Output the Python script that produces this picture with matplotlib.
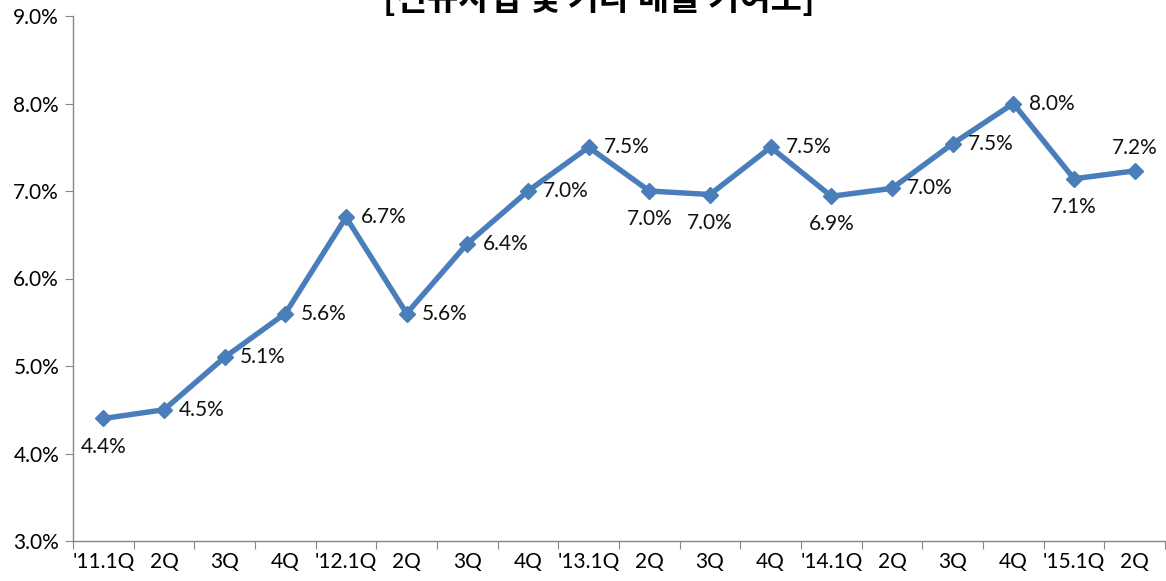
import matplotlib
matplotlib.use("Agg")
import matplotlib.pyplot as plt
import numpy as np

categories = ["'11.1Q", "2Q", "3Q", "4Q", "'12.1Q", "2Q", "3Q", "4Q", "'13.1Q", "2Q",
              "3Q", "4Q", "'14.1Q", "2Q", "3Q", "4Q", "'15.1Q", "2Q"]
values = [4.4, 4.5, 5.1, 5.6, 6.7, 5.6, 6.4, 7.0, 7.5, 7.0,
          6.96, 7.5, 6.94, 7.03, 7.54, 8.0, 7.14, 7.23]
# label placement: r=right, b=below, t=above
label_pos = ["b", "r", "r", "r", "r", "r", "r", "r", "r", "b",
             "b", "r", "b", "r", "r", "r", "b", "t"]
title = "[신규사업 및 기타 매출 기여도]"

plt.rcParams['font.family'] = ['Lato', 'DejaVu Sans']

fig = plt.figure(figsize=(11.66, 5.81), dpi=100)
ax = fig.add_axes([73/1166, 40/581, 1092/1166, 525/581])

x = np.arange(len(values))
color = "#4A7EBB"
ax.plot(x, values, color=color, lw=3.9, marker="D", ms=8, mec=color, mfc=color,
        solid_joinstyle="miter")

fs = 15
for xi, v, p in zip(x, values, label_pos):
    txt = f"{v:.1f}%"
    if p == "r":
        ax.annotate(txt, (xi, v), xytext=(11, 0), textcoords="offset points",
                    ha="left", va="center", fontsize=fs, color="#111111")
    elif p == "b":
        ax.annotate(txt, (xi, v), xytext=(0, -13), textcoords="offset points",
                    ha="center", va="top", fontsize=fs, color="#111111")
    else:
        ax.annotate(txt, (xi, v), xytext=(0, 9), textcoords="offset points",
                    ha="center", va="bottom", fontsize=fs, color="#111111")

ax.set_xlim(-0.5, len(values) - 0.5)
ax.set_ylim(3.0, 9.0)
ax.set_yticks(np.arange(3.0, 9.01, 1.0))
ax.set_yticklabels([f"{t:.1f}%" for t in np.arange(3.0, 9.01, 1.0)], fontsize=fs)

ax.set_xticks(np.arange(-0.5, len(values)), labels=[])
ax.set_xticks(x, labels=categories, minor=True, fontsize=fs)
ax.tick_params(axis="x", which="minor", length=0, pad=8)
ax.tick_params(axis="x", which="major", length=6, color="#868686", direction="out")
ax.tick_params(axis="y", length=6, color="#868686", direction="out", pad=4)

for s in ["top", "right"]:
    ax.spines[s].set_visible(False)
for s in ["left", "bottom"]:
    ax.spines[s].set_color("#868686")
    ax.spines[s].set_linewidth(1.0)

fig.text(599/1166, 1 - 10/581, title, ha="center", va="baseline", fontsize=24.5,
         fontweight="bold", family=["Noto Sans CJK KR", "DejaVu Sans"])

fig.savefig("out.png", dpi=100)
